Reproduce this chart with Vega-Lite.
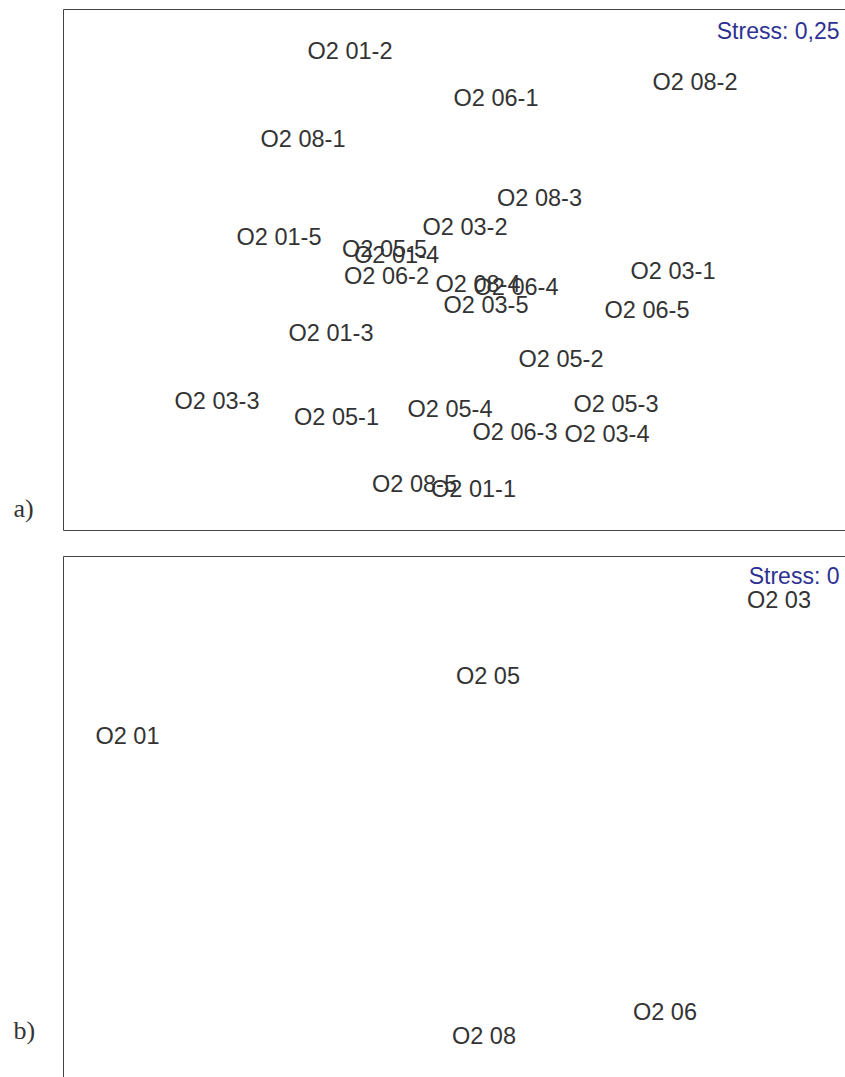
{
  "$schema": "https://vega.github.io/schema/vega-lite/v6.json",
  "padding": {"left": 12, "top": 8, "right": 0, "bottom": 0},
  "spacing": 24,
  "background": "white",
  "config": {"view": {"stroke": "#444444", "strokeWidth": 1}, "font": "Liberation Sans"},
  "datasets": {
    "a": [
      {"label": "O2 01-2", "x": 287, "y": 478},
      {"label": "O2 06-1", "x": 433, "y": 431},
      {"label": "O2 08-2", "x": 632, "y": 447},
      {"label": "O2 08-1", "x": 240, "y": 390},
      {"label": "O2 08-3", "x": 476.5, "y": 331},
      {"label": "O2 03-2", "x": 402, "y": 302},
      {"label": "O2 01-5", "x": 216, "y": 292},
      {"label": "O2 05-5", "x": 321.5, "y": 280},
      {"label": "O2 01-4", "x": 333.5, "y": 274},
      {"label": "O2 06-2", "x": 323.5, "y": 253},
      {"label": "O2 08-4", "x": 415, "y": 245},
      {"label": "O2 06-4", "x": 453, "y": 242},
      {"label": "O2 03-5", "x": 423, "y": 224},
      {"label": "O2 01-3", "x": 268, "y": 196},
      {"label": "O2 03-1", "x": 610, "y": 258},
      {"label": "O2 06-5", "x": 584, "y": 219},
      {"label": "O2 05-2", "x": 498, "y": 170},
      {"label": "O2 03-3", "x": 154, "y": 128},
      {"label": "O2 05-1", "x": 273.5, "y": 112},
      {"label": "O2 05-4", "x": 387, "y": 120},
      {"label": "O2 05-3", "x": 553, "y": 125},
      {"label": "O2 06-3", "x": 452, "y": 97},
      {"label": "O2 03-4", "x": 544, "y": 95},
      {"label": "O2 08-5", "x": 351.5, "y": 45},
      {"label": "O2 01-1", "x": 410.5, "y": 40}
    ],
    "b": [
      {"label": "O2 03", "x": 716, "y": 476},
      {"label": "O2 05", "x": 425, "y": 400},
      {"label": "O2 01", "x": 64.5, "y": 340},
      {"label": "O2 06", "x": 602, "y": 64},
      {"label": "O2 08", "x": 421, "y": 40}
    ]
  },
  "vconcat": [
    {
      "width": 784,
      "height": 521,
      "data": {"name": "a"},
      "mark": {"type": "text", "fontSize": 23.5, "color": "#333333", "align": "center", "baseline": "middle"},
      "encoding": {
        "x": {"field": "x", "type": "quantitative", "scale": {"domain": [0, 784]},
              "axis": {"orient": "top", "title": "Stress: 0,25", "domain": false, "ticks": false, "labels": false, "grid": false, "titleX": 776, "titleY": 22, "titleAlign": "right", "titleBaseline": "middle", "titleColor": "#2E3192", "titleFontSize": 23, "titleFontWeight": "normal", "titleFont": "Liberation Sans"}},
        "y": {"field": "y", "type": "quantitative", "scale": {"domain": [0, 521]},
              "axis": {"title": "a)", "domain": false, "ticks": false, "labels": false, "grid": false, "titleAngle": 0, "titleX": -50, "titleY": 499, "titleAlign": "left", "titleBaseline": "middle", "titleFont": "Liberation Serif", "titleFontSize": 26, "titleFontWeight": "normal", "titleColor": "#333333"}},
        "text": {"field": "label"}
      }
    },
    {
      "width": 784,
      "height": 521,
      "data": {"name": "b"},
      "mark": {"type": "text", "fontSize": 23.5, "color": "#333333", "align": "center", "baseline": "middle"},
      "encoding": {
        "x": {"field": "x", "type": "quantitative", "scale": {"domain": [0, 784]},
              "axis": {"orient": "top", "title": "Stress: 0", "domain": false, "ticks": false, "labels": false, "grid": false, "titleX": 776, "titleY": 20, "titleAlign": "right", "titleBaseline": "middle", "titleColor": "#2E3192", "titleFontSize": 23, "titleFontWeight": "normal", "titleFont": "Liberation Sans"}},
        "y": {"field": "y", "type": "quantitative", "scale": {"domain": [0, 521]},
              "axis": {"title": "b)", "domain": false, "ticks": false, "labels": false, "grid": false, "titleAngle": 0, "titleX": -50, "titleY": 474, "titleAlign": "left", "titleBaseline": "middle", "titleFont": "Liberation Serif", "titleFontSize": 26, "titleFontWeight": "normal", "titleColor": "#333333"}},
        "text": {"field": "label"}
      }
    }
  ]
}
